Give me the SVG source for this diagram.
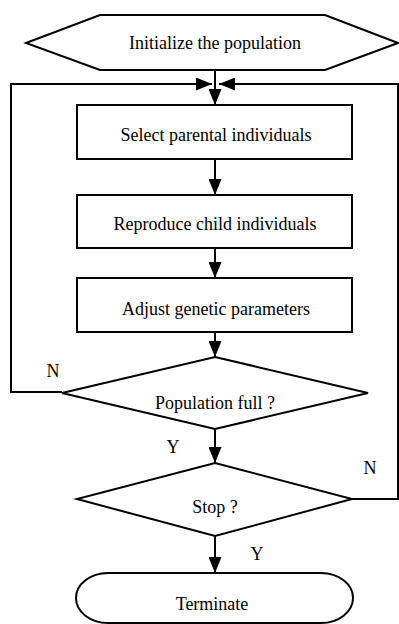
<svg xmlns="http://www.w3.org/2000/svg" width="399" height="624" viewBox="0 0 399 624">
  <style>
    .shape { fill: #ffffff; stroke: #000000; stroke-width: 2; }
    .line { fill: none; stroke: #000000; stroke-width: 2; }
    .label { font-family: "Liberation Serif", "Times New Roman", serif; font-size: 18px; fill: #000000; text-anchor: middle; }
  </style>
  <defs>
    <marker id="arrow" viewBox="0 0 16 13" refX="16" refY="6.5" markerWidth="16" markerHeight="13" markerUnits="userSpaceOnUse" orient="auto">
      <path d="M0,0 L16,6.5 L0,13 Z" fill="#000000"/>
    </marker>
  </defs>
  <rect width="399" height="624" fill="#ffffff"/>

  <g id="connectors">
    <!-- init to first step -->
    <line class="line" x1="215" y1="70" x2="215" y2="105" marker-end="url(#arrow)"/>
    <!-- loop back from "Population full ?" (N) -->
    <polyline class="line" points="62,392 11,392 11,84 212,84" marker-end="url(#arrow)"/>
    <!-- loop back from "Stop ?" (N) -->
    <polyline class="line" points="352,499 398,499 398,84 219,84" marker-end="url(#arrow)"/>
    <line class="line" x1="215" y1="159" x2="215" y2="195" marker-end="url(#arrow)"/>
    <line class="line" x1="215" y1="248" x2="215" y2="278" marker-end="url(#arrow)"/>
    <line class="line" x1="215" y1="332" x2="215" y2="357" marker-end="url(#arrow)"/>
    <line class="line" x1="215" y1="429" x2="215" y2="463" marker-end="url(#arrow)"/>
    <line class="line" x1="215" y1="536" x2="215" y2="573" marker-end="url(#arrow)"/>
    <text class="label" x="53" y="377">N</text>
    <text class="label" x="173" y="453">Y</text>
    <text class="label" x="370" y="474">N</text>
    <text class="label" x="257" y="560">Y</text>
  </g>

  <g id="init">
    <polygon class="shape" points="26,43 100,15 325,15 398,43 325,70 100,70"/>
    <text class="label" x="215" y="49">Initialize the population</text>
  </g>

  <g id="select">
    <rect class="shape" x="77" y="105" width="275" height="54"/>
    <text class="label" x="216" y="141">Select parental individuals</text>
  </g>

  <g id="reproduce">
    <rect class="shape" x="77" y="195" width="275" height="53"/>
    <text class="label" x="215" y="230">Reproduce child individuals</text>
  </g>

  <g id="adjust">
    <rect class="shape" x="77" y="278" width="275" height="54"/>
    <text class="label" x="216" y="315">Adjust genetic parameters</text>
  </g>

  <g id="population-full">
    <polygon class="shape" points="215,357 368,393 215,429 62,393"/>
    <text class="label" x="215" y="409">Population full ?</text>
  </g>

  <g id="stop">
    <polygon class="shape" points="215,463 352,499 215,536 77,499"/>
    <text class="label" x="215" y="513">Stop ?</text>
  </g>

  <g id="terminate">
    <rect class="shape" x="76" y="573" width="277" height="50" rx="32" ry="25"/>
    <text class="label" x="212" y="610">Terminate</text>
  </g>
</svg>
